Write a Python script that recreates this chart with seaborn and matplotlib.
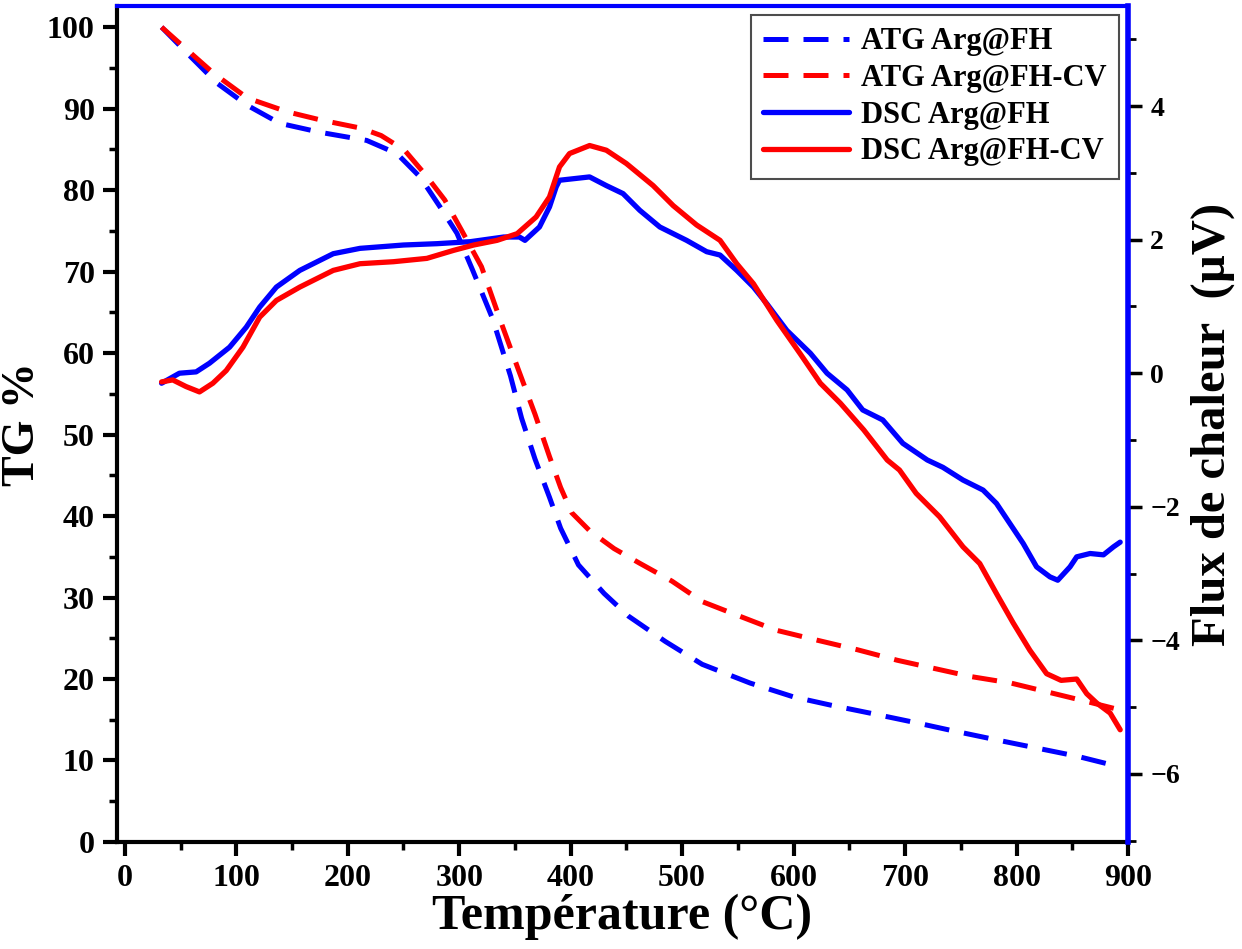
import numpy as np
import pandas as pd
import seaborn as sns
import matplotlib.pyplot as plt
from matplotlib.ticker import MultipleLocator

# ATG curves (TG %)
tg_fh_T = [33, 56, 83, 110, 139, 175, 217, 244, 265, 283, 298, 312, 330, 346, 356, 368, 381, 391, 407, 430,
           452, 485, 518, 561, 600, 633, 669, 711, 741, 783, 819, 855, 893]
tg_fh = [100, 96.8, 93.1, 90.4, 88.2, 87.1, 86.1, 84.5, 81.6, 77.9, 74.7, 70.2, 64.2, 57.2, 52, 47, 42.3, 38.5, 34, 30.5,
         27.7, 24.6, 21.8, 19.5, 17.8, 16.8, 15.8, 14.6, 13.7, 12.5, 11.5, 10.5, 9.2]

tg_cv_T = [33, 56, 80, 110, 146, 176, 212, 230, 251, 269, 287, 302, 320, 338, 353, 368, 381, 391, 401, 417,
           439, 462, 491, 518, 548, 584, 620, 657, 693, 726, 759, 795, 831, 864, 893]
tg_cv = [100, 97.2, 94.3, 91.3, 89.6, 88.6, 87.6, 86.7, 84.9, 82.0, 78.8, 75.1, 70.6, 63.6, 58, 52.5, 47.3, 43.5, 40.4, 38.2,
         36, 34.2, 32, 29.5, 27.9, 26, 24.8, 23.6, 22.3, 21.3, 20.3, 19.5, 18.3, 17.2, 16.2]

# DSC curves (µV)
dsc_fh_T = [33, 49, 64, 76, 94, 109, 121, 136, 157, 187, 211, 250, 280, 310, 340, 354, 359, 372, 381, 387,
            390, 417, 432, 447, 462, 480, 504, 522, 534, 549, 564, 576, 594, 615, 630, 648, 662, 680, 698, 720,
            734, 752, 770, 782, 794, 806, 818, 830, 837, 848, 854, 866, 878, 887, 893]
dsc_fh = [-0.15, 0.0, 0.02, 0.15, 0.39, 0.69, 0.99, 1.29, 1.54, 1.79, 1.87, 1.92, 1.94, 1.97, 2.04, 2.04, 1.99, 2.19, 2.49, 2.79,
          2.89, 2.94, 2.81, 2.69, 2.44, 2.19, 1.99, 1.82, 1.77, 1.54, 1.29, 1.04, 0.64, 0.30, 0.0, -0.25, -0.55, -0.70, -1.05, -1.30,
          -1.41, -1.60, -1.75, -1.95, -2.25, -2.55, -2.9, -3.05, -3.1, -2.9, -2.75, -2.7, -2.72, -2.6, -2.53]

dsc_cv_T = [33, 43, 55, 67, 79, 91, 106, 121, 136, 157, 187, 211, 241, 271, 295, 313, 334, 352, 369, 381,
            390, 399, 417, 432, 450, 474, 492, 513, 534, 549, 564, 585, 606, 624, 642, 663, 684, 695, 710, 731,
            752, 767, 782, 797, 812, 827, 840, 854, 863, 872, 884, 893]
dsc_cv = [-0.13, -0.10, -0.2, -0.28, -0.15, 0.04, 0.39, 0.84, 1.09, 1.29, 1.54, 1.64, 1.67, 1.72, 1.84, 1.92, 1.99, 2.09, 2.34, 2.64,
          3.09, 3.29, 3.41, 3.34, 3.14, 2.81, 2.51, 2.22, 1.99, 1.64, 1.34, 0.79, 0.29, -0.15, -0.45, -0.85, -1.30, -1.45, -1.80, -2.15,
          -2.60, -2.85, -3.3, -3.74, -4.15, -4.5, -4.6, -4.58, -4.8, -4.94, -5.09, -5.34]

sns.set_style('ticks')
plt.rcParams['font.family'] = ['Liberation Serif', 'DejaVu Serif']
plt.rcParams['font.weight'] = 'bold'
plt.rcParams['axes.labelweight'] = 'bold'
plt.rcParams['text.color'] = 'black'
plt.rcParams['axes.labelcolor'] = 'black'
plt.rcParams['xtick.color'] = 'black'
plt.rcParams['ytick.color'] = 'black'

fig = plt.figure(figsize=(12.42, 9.49), dpi=100)
ax = fig.add_axes([0.0942, 0.1128, 0.814, 0.8809])
ax2 = ax.twinx()

dash = (0, (5, 3))
sns.lineplot(x=tg_fh_T, y=tg_fh, ax=ax, color='#0000ff', lw=3.6, linestyle=dash, label='ATG Arg@FH', legend=False)
sns.lineplot(x=tg_cv_T, y=tg_cv, ax=ax, color='#ff0000', lw=3.6, linestyle=dash, label='ATG Arg@FH-CV', legend=False)
sns.lineplot(x=dsc_fh_T, y=dsc_fh, ax=ax2, color='#0000ff', lw=3.8, label='DSC Arg@FH', legend=False)
sns.lineplot(x=dsc_cv_T, y=dsc_cv, ax=ax2, color='#ff0000', lw=3.8, label='DSC Arg@FH-CV', legend=False)

ax.set_xlim(-7, 900)
ax.set_ylim(0, 102.6)
ax2.set_ylim(-7.02, 5.5)

ax.xaxis.set_major_locator(MultipleLocator(100))
ax.xaxis.set_minor_locator(MultipleLocator(50))
ax.yaxis.set_major_locator(MultipleLocator(10))
ax.yaxis.set_minor_locator(MultipleLocator(5))
ax2.yaxis.set_major_locator(MultipleLocator(2))
ax2.yaxis.set_minor_locator(MultipleLocator(1))

ax.tick_params(which='major', direction='out', length=10, width=3, labelsize=23, pad=6)
ax.tick_params(which='minor', direction='out', length=6, width=2.5)
ax2.tick_params(which='major', direction='out', length=10, width=2.5, labelsize=20, pad=6)
ax2.tick_params(which='minor', direction='out', length=6, width=2)

for s in ['left', 'bottom']:
    ax.spines[s].set_linewidth(3)
    ax.spines[s].set_color('black')
ax.spines['right'].set_linewidth(2)
ax.spines['top'].set_visible(False)
ax2.spines['left'].set_visible(False)
ax2.spines['bottom'].set_visible(False)
ax2.spines['right'].set_color('#0000ff')
ax2.spines['right'].set_linewidth(4)
ax2.spines['top'].set_color('#0000ff')
ax2.spines['top'].set_linewidth(3)

ax.set_xlabel('Température (°C)', fontsize=36, labelpad=0)
ax.set_ylabel('TG %', fontsize=33, labelpad=2)
ax2.set_ylabel('Flux de chaleur  (µV)', fontsize=35, labelpad=8)

h1, l1 = ax.get_legend_handles_labels()
h2, l2 = ax2.get_legend_handles_labels()
leg = ax2.legend(h1 + h2, l1 + l2, loc='upper right', fontsize=22, handlelength=2.8,
                 handletextpad=0.4, labelspacing=0.25, borderaxespad=0.3,
                 fancybox=False, framealpha=1, edgecolor='0.3')
leg.get_frame().set_linewidth(1.5)

plt.savefig('out.png', dpi=100)
